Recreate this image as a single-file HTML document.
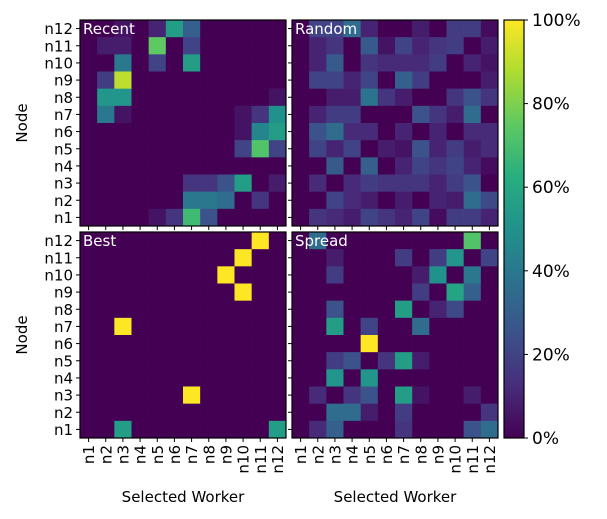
<!DOCTYPE html>
<html><head><meta charset="utf-8"><style>
html,body{margin:0;padding:0;background:#fff;}
svg{display:block;font-family:"DejaVu Sans","Liberation Sans",sans-serif;}
</style></head><body>
<svg id="chart" width="607" height="519" viewBox="0 0 607 519" xmlns="http://www.w3.org/2000/svg">
<defs>
<linearGradient id="vir" x1="0" y1="1" x2="0" y2="0">
<stop offset="0" stop-color="#440154"/><stop offset="0.125" stop-color="#472d7b"/><stop offset="0.25" stop-color="#3b528b"/><stop offset="0.375" stop-color="#2c728e"/><stop offset="0.5" stop-color="#21918c"/><stop offset="0.625" stop-color="#28ae80"/><stop offset="0.75" stop-color="#5ec962"/><stop offset="0.875" stop-color="#addc30"/><stop offset="1" stop-color="#fde725"/>
</linearGradient>
</defs>
<g id="panels"></g>
<g id="cbar"></g>
</svg>
<script>
const nodes = ["n1","n2","n3","n4","n5","n6","n7","n8","n9","n10","n11","n12"];
const panelTitles = ["Recent","Random","Best","Spread"];
const cbarTicks = [0,20,40,60,80,100];
// rows listed top (n12) to bottom (n1); columns n1..n12; values in %
const recentData = [
[0,0,5,0,10,55,30,0,0,0,0,0],
[0,8,8,0,75,0,20,0,0,0,0,0],
[0,0,40,0,20,0,55,0,0,0,0,0],
[0,18,90,0,0,0,0,0,0,0,0,0],
[0,52,52,0,0,0,0,0,0,0,0,5],
[0,40,5,0,0,0,0,0,0,5,15,50],
[0,0,0,0,0,0,0,0,0,5,45,55],
[0,0,0,0,0,0,0,0,0,20,72,20],
[0,0,0,0,0,0,0,0,0,0,0,0],
[0,0,0,0,0,0,15,15,25,55,0,8],
[0,0,0,0,0,0,40,40,35,0,15,0],
[0,0,0,0,5,15,68,25,0,0,0,0]];
const randomData = [
[0,20,20,35,10,0,0,8,0,18,18,3],
[0,10,15,0,28,5,20,10,15,18,0,8],
[0,10,28,0,15,12,12,12,18,0,10,5],
[0,20,20,10,20,0,30,18,0,0,0,8],
[0,0,8,8,38,15,8,0,0,15,25,15],
[0,10,18,18,0,0,0,25,15,8,35,0],
[0,25,35,12,12,0,10,0,10,0,12,12],
[0,20,10,20,0,8,5,25,10,18,8,12],
[0,0,28,0,30,0,10,20,15,20,10,3],
[0,12,0,12,18,15,15,15,10,18,25,0],
[0,0,20,12,8,0,8,0,10,8,35,22],
[0,15,12,8,20,15,10,20,3,18,18,10]];
const bestData = [
[0,0,0,0,0,0,0,0,0,0,100,0],
[0,0,0,0,0,0,0,0,0,100,0,0],
[0,0,0,0,0,0,0,0,100,0,0,0],
[0,0,0,0,0,0,0,0,0,100,0,0],
[0,0,0,0,0,0,0,0,0,0,0,0],
[0,0,100,0,0,0,0,0,0,0,0,0],
[0,0,0,0,0,0,0,0,0,0,0,0],
[0,0,0,0,0,0,0,0,0,0,0,0],
[0,0,0,0,0,0,0,0,0,0,0,0],
[0,0,0,0,0,0,100,0,0,0,0,0],
[0,0,0,0,0,0,0,0,0,0,0,0],
[0,0,55,0,0,0,0,0,0,0,0,55]];
const spreadData = [
[0,35,0,0,0,0,0,0,0,0,72,0],
[0,0,8,0,0,0,18,0,18,52,0,20],
[0,0,18,0,0,0,0,8,50,0,40,0],
[0,0,0,0,0,0,0,18,0,58,30,0],
[0,0,25,0,0,0,55,0,10,22,0,0],
[0,0,55,0,20,0,0,35,0,0,0,0],
[0,0,0,0,100,0,0,0,0,0,0,0],
[0,0,18,25,0,15,55,8,0,0,0,0],
[0,0,52,0,52,0,0,0,0,0,0,0],
[0,12,0,15,25,0,55,5,0,0,8,0],
[0,0,35,35,8,0,18,0,0,0,0,15],
[0,12,30,0,0,0,15,0,0,0,25,35]];
const allData = [recentData, randomData, bestData, spreadData];

const VIR = ["#440154","#472d7b","#3b528b","#2c728e","#21918c","#28ae80","#5ec962","#addc30","#fde725"];
function hex(h){return [1,3,5].map(i=>parseInt(h.substr(i,2),16));}
function color(v){
  let t=Math.max(0,Math.min(1,v/100))*(VIR.length-1);
  let i=Math.min(VIR.length-2,Math.floor(t)), f=t-i;
  const a=hex(VIR[i]), b=hex(VIR[i+1]);
  return "rgb("+a.map((x,k)=>Math.round(x+(b[k]-x)*f)).join(",")+")";
}
const NS="http://www.w3.org/2000/svg";
function mk(tag,attrs,parent,text){
  const e=document.createElementNS(NS,tag);
  for(const k in attrs)e.setAttribute(k,attrs[k]);
  if(text!==undefined)e.textContent=text;
  parent.appendChild(e);return e;
}
const panelsG=document.getElementById("panels");
const PX=[80,292], PY=[20,232], SIZE=206, N=nodes.length, CELL=SIZE/N, FS=15;
allData.forEach((data,p)=>{
  const x0=PX[p%2], y0=PY[Math.floor(p/2)];
  const g=mk("g",{},panelsG);
  
  
  const xs=c=>x0+c*CELL, ys=r=>y0+r*CELL;
  data.forEach((row,r)=>row.forEach((v,c)=>{
    const rc=mk("rect",{x:xs(c),y:ys(r),width:CELL+0.3,height:CELL+0.3,fill:color(v)},g);
    
    
  }));
  const fr=mk("rect",{x:x0,y:y0,width:SIZE,height:SIZE,fill:"none",stroke:"#000","stroke-width":1.2},g);
  
  
  const tt=mk("text",{x:x0+3,y:y0+14,fill:"#fff","font-size":FS},g,panelTitles[p]);
  
  
  for(let r=0;r<N;r++){
    const yc=ys(r)+CELL/2;
    mk("line",{x1:x0-4,x2:x0,y1:yc,y2:yc,stroke:"#000","stroke-width":1},g);
    if(p%2===0){
      const lb=mk("text",{x:x0-7,y:yc+5.5,"text-anchor":"end","font-size":FS,fill:"#000"},g,nodes[N-1-r]);
      
      
    }
  }
  for(let c=0;c<N;c++){
    const xc=xs(c)+CELL/2;
    mk("line",{x1:xc,x2:xc,y1:y0+SIZE,y2:y0+SIZE+4,stroke:"#000","stroke-width":1},g);
    if(p>=2){
      const lb=mk("text",{x:0,y:0,"text-anchor":"end","font-size":FS,fill:"#000",transform:"translate("+(xc+5.5)+","+(y0+SIZE+7)+") rotate(-90)"},g,nodes[c]);
      
      
    }
  }
  if(p%2===0){
    const yt=mk("text",{x:0,y:0,"text-anchor":"middle","font-size":FS,fill:"#000",transform:"translate(27,"+(y0+SIZE/2)+") rotate(-90)"},g,"Node");
    
    
  }
  if(p>=2){
    const xt=mk("text",{x:x0+SIZE/2,y:502,"text-anchor":"middle","font-size":FS,fill:"#000"},g,"Selected Worker");
    
    
  }
});
const cb=document.getElementById("cbar");
const CBX=504, CBW=20, CBT=20, CBB=438;
const cy=v=>CBB-(v/100)*(CBB-CBT);
mk("rect",{x:CBX,y:CBT,width:CBW,height:CBB-CBT,fill:"url(#vir)",stroke:"#000","stroke-width":1.2},cb);
cbarTicks.forEach(v=>{
  mk("line",{x1:CBX+CBW,x2:CBX+CBW+4,y1:cy(v),y2:cy(v),stroke:"#000","stroke-width":1},cb);
  const t=mk("text",{x:CBX+CBW+8,y:cy(v)+6,"font-size":17,fill:"#000"},cb,v+"%");
  
  
});
</script>
</body></html>
